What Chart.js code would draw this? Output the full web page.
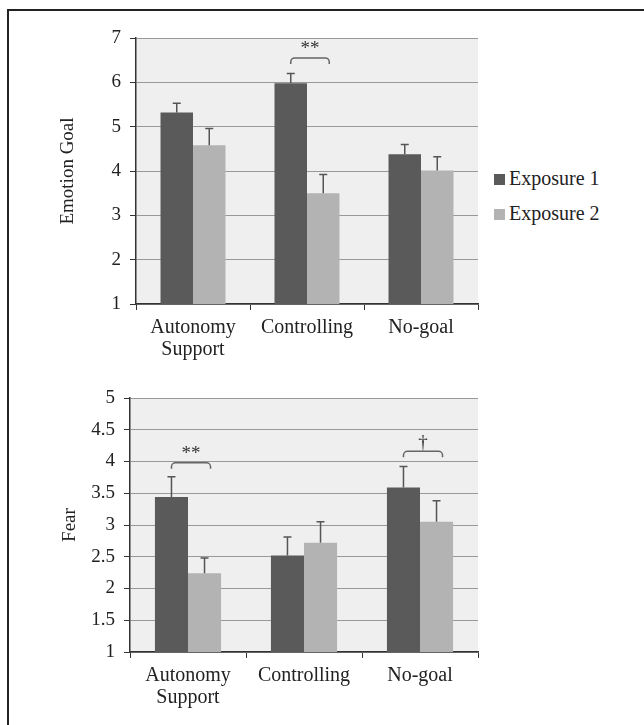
<!DOCTYPE html>
<html>
<head>
<meta charset="utf-8">
<script src="https://cdn.jsdelivr.net/npm/chart.js@4.4.1/dist/chart.umd.min.js"></script>
<style>
  body { margin: 0; background: #fff; overflow: hidden; width: 644px; height: 725px; position: relative; }
  #frame { position: absolute; left: 7px; top: 9px; width: 700px; height: 800px; border-left: 2px solid #222; border-top: 2px solid #222; }
  .box { position: absolute; left: 0; }
  #legend { position: absolute; left: 494px; top: 164px; font-family: 'Liberation Serif', serif; font-size: 20px; color: #222; }
  #legend div { height: 35px; line-height: 28px; white-space: nowrap; }
  #legend span { display: inline-block; width: 11px; height: 11px; margin-right: 4px; vertical-align: 0px; }
</style>
</head>
<body>
<div id="frame"></div>
<div class="box" style="top:0px"><canvas id="emotionChart" width="490" height="360"></canvas></div>
<div class="box" style="top:360px"><canvas id="fearChart" width="490" height="365"></canvas></div>
<div id="legend"></div>
<script>
var categories = [['Autonomy', 'Support'], 'Controlling', 'No-goal'];
var seriesNames = ['Exposure 1', 'Exposure 2'];

// top panel: emotion goal
var emotionExp1 = [5.32, 5.98, 4.38];
var emotionExp2 = [4.58, 3.50, 4.01];
var emotionErr1 = [0.21, 0.22, 0.22];
var emotionErr2 = [0.38, 0.42, 0.31];
var emotionTicks = [1, 2, 3, 4, 5, 6, 7];
var emotionSigCats = [1];
var emotionSigLevels = [6.55];
var emotionSigLabels = ['**'];

// bottom panel: fear
var fearExp1 = [3.44, 2.52, 3.59];
var fearExp2 = [2.24, 2.72, 3.05];
var fearErr1 = [0.32, 0.29, 0.33];
var fearErr2 = [0.24, 0.33, 0.33];
var fearTicks = [1, 1.5, 2, 2.5, 3, 3.5, 4, 4.5, 5];
var fearSigCats = [0, 2];
var fearSigLevels = [3.98, 4.16];
var fearSigLabels = ['**', '\u2020'];

var barColors = ['#5a5a5a', '#b3b3b3'];
var serif = "'Liberation Serif', 'Times New Roman', serif";

var panelPlugin = {
    id: 'panel',
    beforeDraw: function(chart) {
        var a = chart.chartArea, ctx = chart.ctx;
        ctx.save();
        ctx.fillStyle = '#efefef';
        ctx.fillRect(a.left, a.top, a.right - a.left, a.bottom - a.top);
        ctx.restore();
    },
    afterDatasetsDraw: function(chart, args, opts) {
        var ctx = chart.ctx, y = chart.scales.y;
        ctx.save();
        ctx.strokeStyle = '#555';
        ctx.lineWidth = 1.5;
        chart.data.datasets.forEach(function(ds, i) {
            var meta = chart.getDatasetMeta(i);
            meta.data.forEach(function(bar, j) {
                var top = y.getPixelForValue(ds.data[j] + opts.errors[i][j]);
                ctx.beginPath();
                ctx.moveTo(bar.x, bar.y);
                ctx.lineTo(bar.x, top);
                ctx.moveTo(bar.x - 4, top);
                ctx.lineTo(bar.x + 4, top);
                ctx.stroke();
            });
        });
        // significance brackets
        opts.sigCats.forEach(function(c, k) {
            var x1 = chart.getDatasetMeta(0).data[c].x;
            var x2 = chart.getDatasetMeta(1).data[c].x + 6;
            var yb = y.getPixelForValue(opts.sigLevels[k]);
            var r = 4;
            ctx.strokeStyle = '#666';
            ctx.lineWidth = 1.5;
            ctx.beginPath();
            ctx.moveTo(x1, yb + 6);
            ctx.arcTo(x1, yb, x1 + r, yb, r);
            ctx.lineTo(x2 - r, yb);
            ctx.arcTo(x2, yb, x2, yb + r, r);
            ctx.lineTo(x2, yb + 6);
            ctx.stroke();
            ctx.fillStyle = '#333';
            ctx.font = '19px ' + serif;
            ctx.textAlign = 'center';
            ctx.textBaseline = 'bottom';
            ctx.fillText(opts.sigLabels[k], (x1 + x2) / 2, yb + 1);
        });
        ctx.restore();
    }
};

function makeChart(id, exp1, exp2, err1, err2, ticks, step, title, axisW, titlePad, padBottom, sig) {
    var ctx = document.getElementById(id).getContext('2d');
    return new Chart(ctx, {
        type: 'bar',
        data: {
            labels: categories,
            datasets: [{
                label: seriesNames[0],
                data: exp1,
                backgroundColor: barColors[0],
                categoryPercentage: 0.57,
                barPercentage: 1
            }, {
                label: seriesNames[1],
                data: exp2,
                backgroundColor: barColors[1],
                categoryPercentage: 0.57,
                barPercentage: 1
            }]
        },
        options: {
            responsive: false,
            animation: false,
            layout: { padding: { left: 40, right: 12, top: 38, bottom: padBottom } },
            plugins: {
                legend: { display: false },
                tooltip: { enabled: false },
                panel: { errors: [err1, err2], sigCats: sig[0], sigLevels: sig[1], sigLabels: sig[2] }
            },
            scales: {
                x: {
                    grid: { display: true, drawOnChartArea: false, drawTicks: true, tickLength: 6, tickColor: '#333', color: '#333' },
                    border: { display: true, color: '#333', width: 1.5 },
                    ticks: { color: '#222', padding: 7, font: { family: serif, size: 20, lineHeight: 1.1 } },
                    afterFit: function(scale) { scale.height = 56; }
                },
                y: {
                    min: ticks[0],
                    max: ticks[ticks.length - 1],
                    ticks: {
                        stepSize: step,
                        color: '#222',
                        padding: 9,
                        font: { family: serif, size: 19 },
                        callback: function(v) { return ticks.indexOf(v) >= 0 ? String(v) : ''; }
                    },
                    grid: { color: '#999', lineWidth: 1, tickLength: 6, tickColor: '#333' },
                    border: { display: true, color: '#333', width: 1.5 },
                    title: { display: true, text: title, color: '#222', padding: { top: titlePad, bottom: 0 }, font: { family: serif, size: 19 } },
                    afterFit: function(scale) { scale.width = axisW; }
                }
            }
        },
        plugins: [panelPlugin]
    });
}

var emotionChart = makeChart('emotionChart', emotionExp1, emotionExp2, emotionErr1, emotionErr2,
    emotionTicks, 1, 'Emotion Goal', 96, 17, 0, [emotionSigCats, emotionSigLevels, emotionSigLabels]);
makeChart('fearChart', fearExp1, fearExp2, fearErr1, fearErr2,
    fearTicks, 0.5, 'Fear', 90, 19, 17, [fearSigCats, fearSigLevels, fearSigLabels]);

// legend built from the first chart's datasets
var legend = document.getElementById('legend');
emotionChart.data.datasets.forEach(function(ds) {
    var row = document.createElement('div');
    var sw = document.createElement('span');
    sw.style.background = ds.backgroundColor;
    row.appendChild(sw);
    row.appendChild(document.createTextNode(ds.label));
    legend.appendChild(row);
});
</script>
</body>
</html>
